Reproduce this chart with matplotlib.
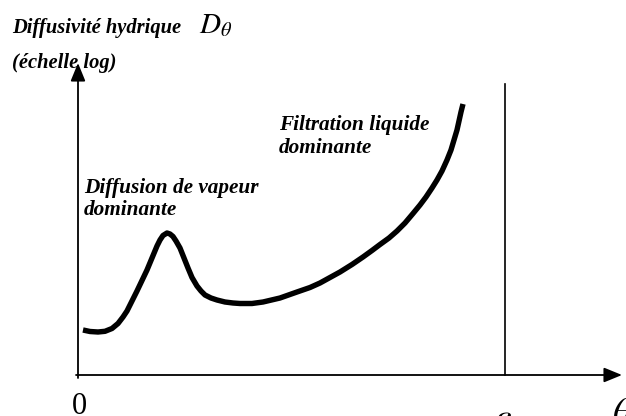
import matplotlib
matplotlib.use("Agg")
import matplotlib.pyplot as plt

# Schematic: hydraulic diffusivity (log scale) versus water content theta.
# theta measured from the origin, log_d measured up from the theta axis.
theta = [5, 12, 20, 27, 34, 40, 45, 49, 54, 59, 64, 69, 74, 79, 82, 85, 89,
         92, 95, 98, 102, 106, 110, 114, 119, 123, 127, 133, 139, 147, 155,
         162, 174, 185, 202, 219, 232, 242, 252, 262, 274, 285, 294, 302, 311,
         319, 327, 335, 342, 348, 354, 359, 364, 369, 373, 376, 379, 381, 383,
         385]
log_d = [45, 43.5, 43, 43.7, 46.5, 51.5, 58, 64, 74, 84, 94.5, 105, 117, 129,
         135, 139.5, 142, 141, 138.5, 134, 127, 117, 107, 97.5, 89, 84, 80,
         77, 75, 73, 72, 71.5, 71.5, 73, 77, 83, 87.5, 92, 97.5, 103, 110.5,
         118, 124.5, 130.5, 137, 144, 152, 161.5, 170, 178, 187, 195, 204,
         215, 225, 235, 245, 254, 263, 271]
eps = 427          # porosity marker on the theta axis
theta_max = 544    # arrow tip of the theta axis
log_d_max = 312    # arrow tip of the D axis

plt.rcParams["mathtext.fontset"] = "stix"
SERIF = ["Liberation Serif", "DejaVu Serif"]
W, H = 626, 416

fig = plt.figure(figsize=(W / 100, H / 100), dpi=100)
fig.patch.set_facecolor("white")
x0, y0 = 78, 375
ax = fig.add_axes([x0 / W, (H - y0) / H, theta_max / W, log_d_max / H])
ax.set_xlim(0, theta_max)
ax.set_ylim(0, log_d_max)
ax.axis("off")


def px(x, y):
    return x / W, 1 - y / H


label_kw = dict(family=SERIF, weight="bold", style="italic", color="black")

# axis titles
fig.text(*px(12, 33), "Diffusivité hydrique", fontsize=14.8, va="baseline",
         zorder=1, **label_kw)
fig.text(*px(199, 33), r"$D_\theta$", fontsize=21, va="baseline", zorder=1)
fig.text(*px(12, 68), "(échelle log)", fontsize=14.8, va="baseline",
         zorder=1, **label_kw)

# axes with arrow heads
arrow = dict(arrowstyle="-|>,head_length=1.1,head_width=0.45", color="black",
             lw=1.3, shrinkA=0, shrinkB=0)
ax.annotate("", xy=(theta_max, 0), xytext=(-2, 0), arrowprops=arrow,
            annotation_clip=False, zorder=5)
ax.annotate("", xy=(0, log_d_max), xytext=(0, -3), arrowprops=arrow,
            annotation_clip=False, zorder=5)

# porosity line
ax.plot([eps, eps], [0, 291], color="black", lw=1.2, clip_on=False)

# diffusivity curve
ax.plot(theta, log_d, color="black", lw=3.9, solid_capstyle="butt",
        solid_joinstyle="round", clip_on=False)

# regime labels
fig.text(*px(84, 193), "Diffusion de vapeur", fontsize=15.3, va="baseline",
         **label_kw)
fig.text(*px(84, 215), "dominante", fontsize=15.3, va="baseline", **label_kw)
fig.text(*px(279, 130), "Filtration liquide", fontsize=15.3, va="baseline",
         **label_kw)
fig.text(*px(279, 153), "dominante", fontsize=15.3, va="baseline", **label_kw)

# theta axis labels
fig.text(*px(79, 414), "0", fontsize=22, family=SERIF, ha="center",
         va="baseline")
fig.text(*px(503, 401), r"$\varepsilon$", fontsize=27, ha="center", va="top")
fig.text(*px(622, 396), r"$\theta$", fontsize=27, ha="center", va="top")

fig.savefig("out.png", dpi=100, facecolor="white")
